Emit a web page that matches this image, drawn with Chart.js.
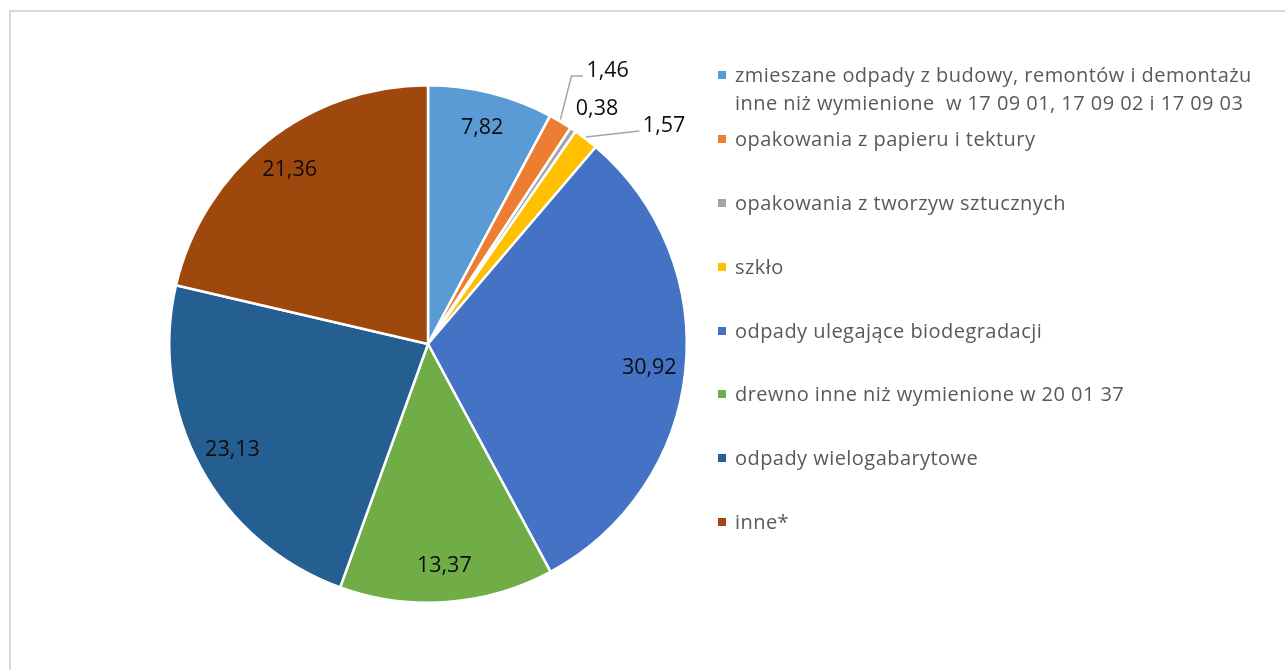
<!DOCTYPE html>
<html>
<head>
<meta charset="utf-8">
<script src="https://cdn.jsdelivr.net/npm/chart.js@4/dist/chart.umd.min.js"></script>
<style>
  html, body { margin: 0; padding: 0; background: #fff; }
  body { width: 1285px; height: 670px; position: relative; overflow: hidden; font-family: "Open Sans", sans-serif; }
  #frame { position: absolute; left: 9px; top: 10px; width: 1290px; height: 680px; border: 2px solid #d9d9d9; box-sizing: border-box; }
  #wrap { position: absolute; left: 0; top: 0; width: 1285px; height: 670px; }
  #legend { position: absolute; left: 0; top: 0; }
  .item { position: absolute; left: 735px; color: #595959; font-size: 20px; letter-spacing: 0.45px; line-height: 28px; white-space: pre; }
  .box { position: absolute; left: -17px; top: 10px; width: 8px; height: 8px; }
</style>
</head>
<body>
<div id="frame"></div>
<div id="wrap"><canvas id="pie" width="1285" height="670"></canvas></div>
<div id="legend"></div>
<script>
  var categories = [
    "zmieszane odpady z budowy, remontów i demontażu\ninne niż wymienione  w 17 09 01, 17 09 02 i 17 09 03",
    "opakowania z papieru i tektury",
    "opakowania z tworzyw sztucznych",
    "szkło",
    "odpady ulegające biodegradacji",
    "drewno inne niż wymienione w 20 01 37",
    "odpady wielogabarytowe",
    "inne*"
  ];
  var values = [7.82, 1.46, 0.38, 1.57, 30.92, 13.37, 23.13, 21.36];
  var valueLabels = ["7,82", "1,46", "0,38", "1,57", "30,92", "13,37", "23,13", "21,36"];
  var colors = ["#5B9BD5", "#ED7D31", "#A5A5A5", "#FFC000", "#4472C4", "#70AD47", "#255E91", "#9E480E"];

  // small slices get their label outside, some with a leader line
  var callouts = {
    1: { line: [[11, -45.6], [22.5, -45.6]], text: [26, -51] },
    2: { line: null, text: [2, -21] },
    3: { line: [[53.6, -8]], text: [57, -13.5] }
  };

  function buildLegend() {
    var legend = document.getElementById('legend');
    var tops = [61];
    for (var i = 1; i < categories.length; i++) {
      tops.push(125 + (i - 1) * 63.86);
    }
    categories.forEach(function(name, i) {
      var div = document.createElement('div');
      div.className = 'item';
      div.style.top = tops[i] + 'px';
      var box = document.createElement('span');
      box.className = 'box';
      box.style.background = colors[i];
      div.appendChild(box);
      name.split('\n').forEach(function(line, k) {
        if (k > 0) div.appendChild(document.createElement('br'));
        div.appendChild(document.createTextNode(line));
      });
      legend.appendChild(div);
    });
  }

  var valueLabelPlugin = {
    id: 'valueLabels',
    afterDatasetsDraw: function(chart) {
      var ctx = chart.ctx;
      var arcs = chart.getDatasetMeta(0).data;
      ctx.save();
      ctx.font = '21.5px "Open Sans", sans-serif';
      ctx.fillStyle = '#0d0d0d';
      ctx.textBaseline = 'middle';
      arcs.forEach(function(arc, i) {
        var mid = (arc.startAngle + arc.endAngle) / 2;
        var r = arc.outerRadius;
        var c = callouts[i];
        if (!c) {
          ctx.textAlign = 'center';
          ctx.fillText(valueLabels[i], arc.x + Math.cos(mid) * r * 0.86, arc.y + Math.sin(mid) * r * 0.86);
          return;
        }
        var ex = arc.x + Math.cos(mid) * r;
        var ey = arc.y + Math.sin(mid) * r;
        if (c.line) {
          ctx.strokeStyle = '#a6a6a6';
          ctx.lineWidth = 1.5;
          ctx.beginPath();
          ctx.moveTo(ex, ey - 2);
          c.line.forEach(function(p) { ctx.lineTo(ex + p[0], ey + p[1]); });
          ctx.stroke();
        }
        ctx.textAlign = c.line ? 'left' : 'center';
        ctx.fillText(valueLabels[i], ex + c.text[0] + (c.line ? 0 : 22), ey + c.text[1]);
      });
      ctx.restore();
    }
  };

  buildLegend();

  new Chart(document.getElementById('pie').getContext('2d'), {
    type: 'pie',
    data: {
      labels: categories,
      datasets: [{
        data: values,
        backgroundColor: colors,
        borderColor: '#ffffff',
        borderWidth: 2.5,
        hoverOffset: 0
      }]
    },
    options: {
      responsive: false,
      animation: false,
      layout: { padding: { left: 168, top: 84, right: 597, bottom: 66 } },
      plugins: {
        legend: { display: false },
        tooltip: { enabled: false }
      }
    },
    plugins: [valueLabelPlugin]
  });
</script>
</body>
</html>
